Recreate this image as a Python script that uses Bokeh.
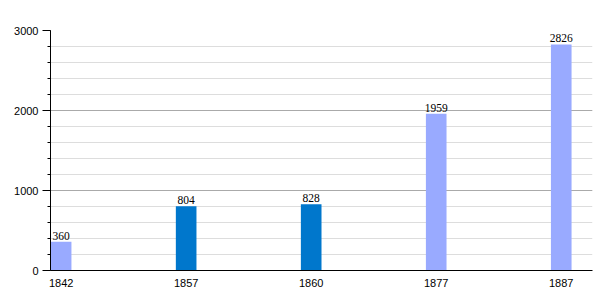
from bokeh.plotting import figure
from bokeh.models import Range1d, FixedTicker, ColumnDataSource, LabelSet
from bokeh.embed import file_html
from bokeh.resources import INLINE

years = ["1842", "1857", "1860", "1877", "1887"]
population = [360, 804, 828, 1959, 2826]
colors = ["#99AAFF", "#0077CC", "#0077CC", "#99AAFF", "#99AAFF"]
y_ticks = [0, 1000, 2000, 3000]

xs = list(range(len(years)))
src = ColumnDataSource(dict(x=xs, top=population, color=colors,
                            label=[str(v) for v in population]))

p = figure(width=600, height=300, output_backend="svg", toolbar_location=None,
           x_range=Range1d(-0.085, 4.25), y_range=Range1d(0, 3000),
           min_border_left=50, min_border_right=8, min_border_top=30, min_border_bottom=30)
p.outline_line_color = None
p.background_fill_color = "white"
p.border_fill_color = "white"

p.vbar(x="x", top="top", width=0.165, color="color", line_color=None, source=src)

labels = LabelSet(x="x", y="top", text="label", source=src, text_align="center",
                  text_baseline="bottom", y_offset=2, text_font_size="11.5px",
                  text_font="Liberation Sans", text_color="black")
p.add_layout(labels)

p.xaxis.ticker = FixedTicker(ticks=xs)
p.xaxis.major_label_overrides = {i: y for i, y in enumerate(years)}
p.xaxis.major_tick_line_color = None
p.xaxis.minor_tick_line_color = None
p.xaxis.axis_line_color = "black"
p.xaxis.major_label_standoff = 2
p.xaxis.major_label_text_font_size = "11px"
p.xaxis.major_label_text_font = "Liberation Sans"
p.xaxis.major_label_text_color = "black"

p.yaxis.ticker = FixedTicker(ticks=y_ticks, minor_ticks=list(range(0, 3001, 200)))
p.yaxis.axis_line_color = "black"
p.yaxis.major_tick_out = 8
p.yaxis.major_tick_in = 0
p.yaxis.minor_tick_out = 3
p.yaxis.minor_tick_in = 0
p.yaxis.major_tick_line_color = "black"
p.yaxis.minor_tick_line_color = "black"
p.yaxis.major_label_standoff = 4
p.yaxis.major_label_text_font_size = "11px"
p.yaxis.major_label_text_font = "Liberation Sans"
p.yaxis.major_label_text_color = "black"

p.xgrid.grid_line_color = None
p.ygrid.grid_line_color = "#AAAAAA"
p.ygrid.minor_grid_line_color = "#DDDDDD"
p.ygrid.level = "underlay"

open("out.html", "w").write(file_html(p, INLINE))
